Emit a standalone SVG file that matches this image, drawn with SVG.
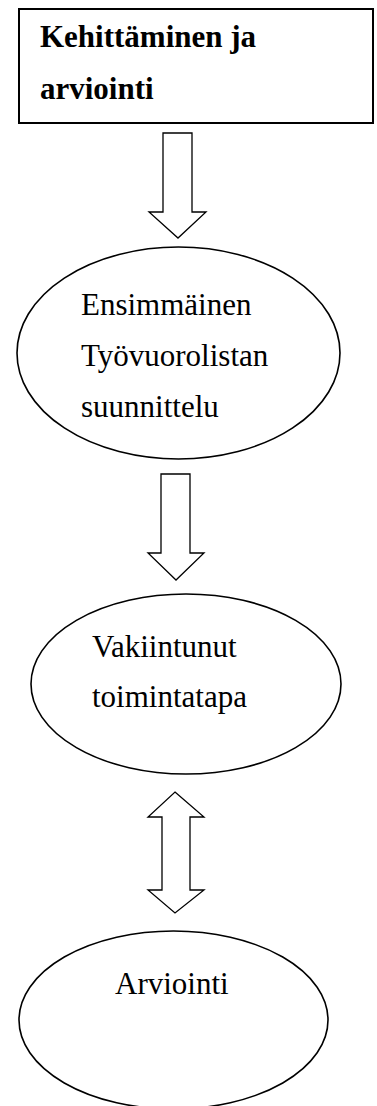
<svg xmlns="http://www.w3.org/2000/svg" width="377" height="1106" viewBox="0 0 377 1106">
  <style>
    .box { fill: #fff; stroke: #000; stroke-width: 2; }
    .oval { fill: #fff; stroke: #000; stroke-width: 1.6; }
    .arrow { fill: #fff; stroke: #000; stroke-width: 1.3; stroke-linejoin: miter; }
    .t { font-family: "Liberation Serif", "Times New Roman", serif; font-size: 31px; fill: #000; }
    .b { font-weight: bold; }
  </style>
  <rect width="377" height="1106" fill="#fff"/>

  <g id="connectors">
    <!-- block arrow: box to first oval -->
    <path class="arrow" d="M163,133 H192 V212 H206 L178,238 L149,212 H163 Z"/>
    <!-- block arrow: first oval to second oval -->
    <path class="arrow" d="M161,474 H190 V553 H204 L176,580 L148,553 H161 Z"/>
    <!-- two-headed block arrow between second and third oval -->
    <path class="arrow" d="M175,792 L204,817 H190 V890 H204 L175,913 L148,890 H162 V817 H148 Z"/>
  </g>

  <g id="node-kehittaminen">
    <rect class="box" x="19" y="9" width="354" height="114"/>
    <text class="t b" x="40" y="47">Kehittäminen ja</text>
    <text class="t b" x="40" y="99">arviointi</text>
  </g>

  <g id="node-ensimmainen">
    <ellipse class="oval" cx="178.5" cy="353" rx="161.5" ry="106"/>
    <text class="t" x="81" y="315">Ensimmäinen</text>
    <text class="t" x="81" y="366">Työvuorolistan</text>
    <text class="t" x="81" y="417">suunnittelu</text>
  </g>

  <g id="node-vakiintunut">
    <ellipse class="oval" cx="186" cy="684" rx="155" ry="90"/>
    <text class="t" x="92" y="657">Vakiintunut</text>
    <text class="t" x="92" y="707">toimintatapa</text>
  </g>

  <g id="node-arviointi">
    <ellipse class="oval" cx="173.5" cy="1020" rx="154.5" ry="89"/>
    <text class="t" x="115" y="994">Arviointi</text>
  </g>
</svg>
